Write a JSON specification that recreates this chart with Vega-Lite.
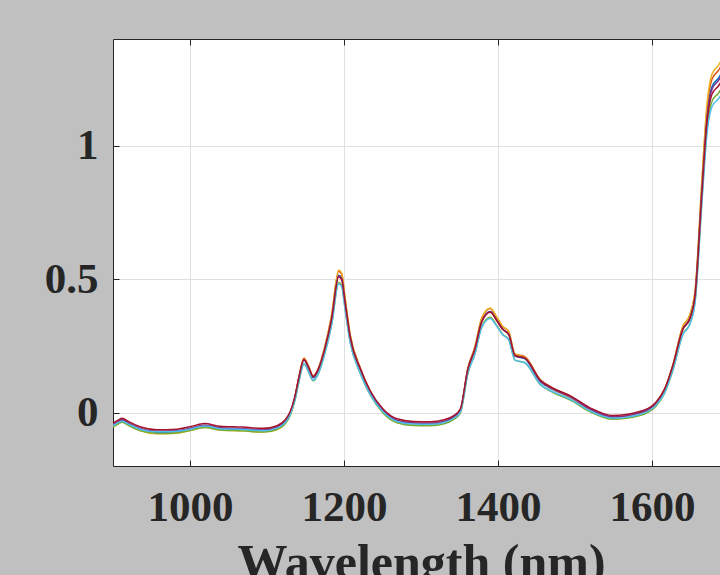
{
"$schema": "https://vega.github.io/schema/vega-lite/v6.json",
"width": 607, "height": 427,
"autosize": {"type": "none"},
"padding": {"left": 113, "top": 39, "right": 0, "bottom": 109},
"background": "#c0c0c0",
"config": {"view": {"fill": "white", "stroke": null}, "font": "Liberation Serif"},
"data": {"values": [
{"w":900,"s":"A","v":-0.048},{"w":906,"s":"A","v":-0.038},{"w":912,"s":"A","v":-0.030},{"w":920,"s":"A","v":-0.042},{"w":935,"s":"A","v":-0.063},{"w":957,"s":"A","v":-0.074},{"w":983,"s":"A","v":-0.072},{"w":1000,"s":"A","v":-0.063},{"w":1019,"s":"A","v":-0.051},{"w":1039,"s":"A","v":-0.061},{"w":1069,"s":"A","v":-0.064},{"w":1095,"s":"A","v":-0.069},{"w":1113,"s":"A","v":-0.059},{"w":1124,"s":"A","v":-0.035},{"w":1130,"s":"A","v":-0.005},{"w":1136,"s":"A","v":0.051},{"w":1141,"s":"A","v":0.121},{"w":1148,"s":"A","v":0.197},{"w":1154,"s":"A","v":0.167},{"w":1160,"s":"A","v":0.131},{"w":1167,"s":"A","v":0.162},{"w":1175,"s":"A","v":0.237},{"w":1184,"s":"A","v":0.354},{"w":1193,"s":"A","v":0.515},{"w":1197,"s":"A","v":0.505},{"w":1201,"s":"A","v":0.424},{"w":1208,"s":"A","v":0.283},{"w":1221,"s":"A","v":0.162},{"w":1234,"s":"A","v":0.076},{"w":1251,"s":"A","v":0.005},{"w":1269,"s":"A","v":-0.032},{"w":1290,"s":"A","v":-0.042},{"w":1312,"s":"A","v":-0.043},{"w":1330,"s":"A","v":-0.036},{"w":1342,"s":"A","v":-0.020},{"w":1351,"s":"A","v":0.005},{"w":1361,"s":"A","v":0.162},{"w":1370,"s":"A","v":0.237},{"w":1379,"s":"A","v":0.343},{"w":1390,"s":"A","v":0.379},{"w":1398,"s":"A","v":0.349},{"w":1406,"s":"A","v":0.313},{"w":1414,"s":"A","v":0.293},{"w":1422,"s":"A","v":0.212},{"w":1435,"s":"A","v":0.202},{"w":1455,"s":"A","v":0.116},{"w":1471,"s":"A","v":0.087},{"w":1494,"s":"A","v":0.057},{"w":1519,"s":"A","v":0.011},{"w":1549,"s":"A","v":-0.019},{"w":1584,"s":"A","v":-0.004},{"w":1606,"s":"A","v":0.035},{"w":1616,"s":"A","v":0.081},{"w":1627,"s":"A","v":0.172},{"w":1640,"s":"A","v":0.313},{"w":1649,"s":"A","v":0.354},{"w":1656,"s":"A","v":0.444},{"w":1665,"s":"A","v":0.848},{"w":1671,"s":"A","v":1.101},{"w":1678,"s":"A","v":1.222},{"w":1686,"s":"A","v":1.252},{"w":1695,"s":"A","v":1.293},{"w":1700,"s":"A","v":1.303},
{"w":900,"s":"B","v":-0.045},{"w":906,"s":"B","v":-0.035},{"w":912,"s":"B","v":-0.027},{"w":920,"s":"B","v":-0.039},{"w":935,"s":"B","v":-0.060},{"w":957,"s":"B","v":-0.071},{"w":983,"s":"B","v":-0.069},{"w":1000,"s":"B","v":-0.060},{"w":1019,"s":"B","v":-0.048},{"w":1039,"s":"B","v":-0.058},{"w":1069,"s":"B","v":-0.061},{"w":1095,"s":"B","v":-0.066},{"w":1113,"s":"B","v":-0.056},{"w":1124,"s":"B","v":-0.032},{"w":1130,"s":"B","v":-0.001},{"w":1136,"s":"B","v":0.056},{"w":1141,"s":"B","v":0.128},{"w":1148,"s":"B","v":0.205},{"w":1154,"s":"B","v":0.174},{"w":1160,"s":"B","v":0.138},{"w":1167,"s":"B","v":0.169},{"w":1175,"s":"B","v":0.246},{"w":1184,"s":"B","v":0.365},{"w":1193,"s":"B","v":0.529},{"w":1197,"s":"B","v":0.519},{"w":1201,"s":"B","v":0.437},{"w":1208,"s":"B","v":0.292},{"w":1221,"s":"B","v":0.169},{"w":1234,"s":"B","v":0.081},{"w":1251,"s":"B","v":0.009},{"w":1269,"s":"B","v":-0.029},{"w":1290,"s":"B","v":-0.039},{"w":1312,"s":"B","v":-0.040},{"w":1330,"s":"B","v":-0.033},{"w":1342,"s":"B","v":-0.017},{"w":1351,"s":"B","v":0.009},{"w":1361,"s":"B","v":0.169},{"w":1370,"s":"B","v":0.246},{"w":1379,"s":"B","v":0.354},{"w":1390,"s":"B","v":0.390},{"w":1398,"s":"B","v":0.359},{"w":1406,"s":"B","v":0.323},{"w":1414,"s":"B","v":0.303},{"w":1422,"s":"B","v":0.220},{"w":1435,"s":"B","v":0.210},{"w":1455,"s":"B","v":0.123},{"w":1471,"s":"B","v":0.093},{"w":1494,"s":"B","v":0.062},{"w":1519,"s":"B","v":0.015},{"w":1549,"s":"B","v":-0.016},{"w":1584,"s":"B","v":0.000},{"w":1606,"s":"B","v":0.040},{"w":1616,"s":"B","v":0.086},{"w":1627,"s":"B","v":0.179},{"w":1640,"s":"B","v":0.323},{"w":1649,"s":"B","v":0.365},{"w":1656,"s":"B","v":0.457},{"w":1665,"s":"B","v":0.869},{"w":1671,"s":"B","v":1.127},{"w":1678,"s":"B","v":1.250},{"w":1686,"s":"B","v":1.281},{"w":1695,"s":"B","v":1.322},{"w":1700,"s":"B","v":1.333},
{"w":900,"s":"C","v":-0.052},{"w":906,"s":"C","v":-0.042},{"w":912,"s":"C","v":-0.034},{"w":920,"s":"C","v":-0.046},{"w":935,"s":"C","v":-0.067},{"w":957,"s":"C","v":-0.079},{"w":983,"s":"C","v":-0.077},{"w":1000,"s":"C","v":-0.067},{"w":1019,"s":"C","v":-0.055},{"w":1039,"s":"C","v":-0.065},{"w":1069,"s":"C","v":-0.068},{"w":1095,"s":"C","v":-0.073},{"w":1113,"s":"C","v":-0.063},{"w":1124,"s":"C","v":-0.039},{"w":1130,"s":"C","v":-0.007},{"w":1136,"s":"C","v":0.051},{"w":1141,"s":"C","v":0.124},{"w":1148,"s":"C","v":0.203},{"w":1154,"s":"C","v":0.171},{"w":1160,"s":"C","v":0.135},{"w":1167,"s":"C","v":0.166},{"w":1175,"s":"C","v":0.245},{"w":1184,"s":"C","v":0.366},{"w":1193,"s":"C","v":0.534},{"w":1197,"s":"C","v":0.523},{"w":1201,"s":"C","v":0.439},{"w":1208,"s":"C","v":0.292},{"w":1221,"s":"C","v":0.166},{"w":1234,"s":"C","v":0.077},{"w":1251,"s":"C","v":0.003},{"w":1269,"s":"C","v":-0.036},{"w":1290,"s":"C","v":-0.046},{"w":1312,"s":"C","v":-0.047},{"w":1330,"s":"C","v":-0.040},{"w":1342,"s":"C","v":-0.023},{"w":1351,"s":"C","v":0.003},{"w":1361,"s":"C","v":0.166},{"w":1370,"s":"C","v":0.245},{"w":1379,"s":"C","v":0.355},{"w":1390,"s":"C","v":0.392},{"w":1398,"s":"C","v":0.360},{"w":1406,"s":"C","v":0.324},{"w":1414,"s":"C","v":0.303},{"w":1422,"s":"C","v":0.219},{"w":1435,"s":"C","v":0.208},{"w":1455,"s":"C","v":0.119},{"w":1471,"s":"C","v":0.088},{"w":1494,"s":"C","v":0.057},{"w":1519,"s":"C","v":0.010},{"w":1549,"s":"C","v":-0.022},{"w":1584,"s":"C","v":-0.006},{"w":1606,"s":"C","v":0.035},{"w":1616,"s":"C","v":0.082},{"w":1627,"s":"C","v":0.177},{"w":1640,"s":"C","v":0.324},{"w":1649,"s":"C","v":0.366},{"w":1656,"s":"C","v":0.460},{"w":1665,"s":"C","v":0.880},{"w":1671,"s":"C","v":1.143},{"w":1678,"s":"C","v":1.269},{"w":1686,"s":"C","v":1.300},{"w":1695,"s":"C","v":1.342},{"w":1700,"s":"C","v":1.352},
{"w":900,"s":"D","v":-0.045},{"w":906,"s":"D","v":-0.035},{"w":912,"s":"D","v":-0.027},{"w":920,"s":"D","v":-0.039},{"w":935,"s":"D","v":-0.059},{"w":957,"s":"D","v":-0.070},{"w":983,"s":"D","v":-0.068},{"w":1000,"s":"D","v":-0.059},{"w":1019,"s":"D","v":-0.047},{"w":1039,"s":"D","v":-0.057},{"w":1069,"s":"D","v":-0.060},{"w":1095,"s":"D","v":-0.065},{"w":1113,"s":"D","v":-0.055},{"w":1124,"s":"D","v":-0.032},{"w":1130,"s":"D","v":-0.002},{"w":1136,"s":"D","v":0.053},{"w":1141,"s":"D","v":0.123},{"w":1148,"s":"D","v":0.198},{"w":1154,"s":"D","v":0.168},{"w":1160,"s":"D","v":0.133},{"w":1167,"s":"D","v":0.163},{"w":1175,"s":"D","v":0.238},{"w":1184,"s":"D","v":0.353},{"w":1193,"s":"D","v":0.513},{"w":1197,"s":"D","v":0.503},{"w":1201,"s":"D","v":0.423},{"w":1208,"s":"D","v":0.283},{"w":1221,"s":"D","v":0.163},{"w":1234,"s":"D","v":0.078},{"w":1251,"s":"D","v":0.008},{"w":1269,"s":"D","v":-0.029},{"w":1290,"s":"D","v":-0.039},{"w":1312,"s":"D","v":-0.040},{"w":1330,"s":"D","v":-0.033},{"w":1342,"s":"D","v":-0.017},{"w":1351,"s":"D","v":0.008},{"w":1361,"s":"D","v":0.163},{"w":1370,"s":"D","v":0.238},{"w":1379,"s":"D","v":0.343},{"w":1390,"s":"D","v":0.378},{"w":1398,"s":"D","v":0.348},{"w":1406,"s":"D","v":0.313},{"w":1414,"s":"D","v":0.293},{"w":1422,"s":"D","v":0.213},{"w":1435,"s":"D","v":0.203},{"w":1455,"s":"D","v":0.118},{"w":1471,"s":"D","v":0.089},{"w":1494,"s":"D","v":0.059},{"w":1519,"s":"D","v":0.014},{"w":1549,"s":"D","v":-0.016},{"w":1584,"s":"D","v":-0.001},{"w":1606,"s":"D","v":0.038},{"w":1616,"s":"D","v":0.083},{"w":1627,"s":"D","v":0.173},{"w":1640,"s":"D","v":0.313},{"w":1649,"s":"D","v":0.353},{"w":1656,"s":"D","v":0.443},{"w":1665,"s":"D","v":0.843},{"w":1671,"s":"D","v":1.093},{"w":1678,"s":"D","v":1.213},{"w":1686,"s":"D","v":1.243},{"w":1695,"s":"D","v":1.283},{"w":1700,"s":"D","v":1.293},
{"w":900,"s":"E","v":-0.054},{"w":906,"s":"E","v":-0.044},{"w":912,"s":"E","v":-0.036},{"w":920,"s":"E","v":-0.048},{"w":935,"s":"E","v":-0.067},{"w":957,"s":"E","v":-0.078},{"w":983,"s":"E","v":-0.076},{"w":1000,"s":"E","v":-0.067},{"w":1019,"s":"E","v":-0.056},{"w":1039,"s":"E","v":-0.065},{"w":1069,"s":"E","v":-0.068},{"w":1095,"s":"E","v":-0.073},{"w":1113,"s":"E","v":-0.063},{"w":1124,"s":"E","v":-0.041},{"w":1130,"s":"E","v":-0.012},{"w":1136,"s":"E","v":0.042},{"w":1141,"s":"E","v":0.109},{"w":1148,"s":"E","v":0.182},{"w":1154,"s":"E","v":0.153},{"w":1160,"s":"E","v":0.119},{"w":1167,"s":"E","v":0.148},{"w":1175,"s":"E","v":0.221},{"w":1184,"s":"E","v":0.332},{"w":1193,"s":"E","v":0.488},{"w":1197,"s":"E","v":0.478},{"w":1201,"s":"E","v":0.400},{"w":1208,"s":"E","v":0.265},{"w":1221,"s":"E","v":0.148},{"w":1234,"s":"E","v":0.066},{"w":1251,"s":"E","v":-0.002},{"w":1269,"s":"E","v":-0.038},{"w":1290,"s":"E","v":-0.048},{"w":1312,"s":"E","v":-0.049},{"w":1330,"s":"E","v":-0.042},{"w":1342,"s":"E","v":-0.026},{"w":1351,"s":"E","v":-0.002},{"w":1361,"s":"E","v":0.148},{"w":1370,"s":"E","v":0.221},{"w":1379,"s":"E","v":0.323},{"w":1390,"s":"E","v":0.357},{"w":1398,"s":"E","v":0.328},{"w":1406,"s":"E","v":0.294},{"w":1414,"s":"E","v":0.274},{"w":1422,"s":"E","v":0.197},{"w":1435,"s":"E","v":0.187},{"w":1455,"s":"E","v":0.105},{"w":1471,"s":"E","v":0.076},{"w":1494,"s":"E","v":0.047},{"w":1519,"s":"E","v":0.004},{"w":1549,"s":"E","v":-0.025},{"w":1584,"s":"E","v":-0.011},{"w":1606,"s":"E","v":0.027},{"w":1616,"s":"E","v":0.071},{"w":1627,"s":"E","v":0.158},{"w":1640,"s":"E","v":0.294},{"w":1649,"s":"E","v":0.332},{"w":1656,"s":"E","v":0.420},{"w":1665,"s":"E","v":0.808},{"w":1671,"s":"E","v":1.050},{"w":1678,"s":"E","v":1.167},{"w":1686,"s":"E","v":1.196},{"w":1695,"s":"E","v":1.235},{"w":1700,"s":"E","v":1.244},
{"w":900,"s":"F","v":-0.049},{"w":906,"s":"F","v":-0.039},{"w":912,"s":"F","v":-0.032},{"w":920,"s":"F","v":-0.043},{"w":935,"s":"F","v":-0.062},{"w":957,"s":"F","v":-0.072},{"w":983,"s":"F","v":-0.070},{"w":1000,"s":"F","v":-0.062},{"w":1019,"s":"F","v":-0.050},{"w":1039,"s":"F","v":-0.060},{"w":1069,"s":"F","v":-0.063},{"w":1095,"s":"F","v":-0.068},{"w":1113,"s":"F","v":-0.058},{"w":1124,"s":"F","v":-0.036},{"w":1130,"s":"F","v":-0.008},{"w":1136,"s":"F","v":0.044},{"w":1141,"s":"F","v":0.111},{"w":1148,"s":"F","v":0.182},{"w":1154,"s":"F","v":0.154},{"w":1160,"s":"F","v":0.121},{"w":1167,"s":"F","v":0.149},{"w":1175,"s":"F","v":0.220},{"w":1184,"s":"F","v":0.330},{"w":1193,"s":"F","v":0.482},{"w":1197,"s":"F","v":0.472},{"w":1201,"s":"F","v":0.396},{"w":1208,"s":"F","v":0.263},{"w":1221,"s":"F","v":0.149},{"w":1234,"s":"F","v":0.068},{"w":1251,"s":"F","v":0.002},{"w":1269,"s":"F","v":-0.033},{"w":1290,"s":"F","v":-0.043},{"w":1312,"s":"F","v":-0.044},{"w":1330,"s":"F","v":-0.037},{"w":1342,"s":"F","v":-0.022},{"w":1351,"s":"F","v":0.002},{"w":1361,"s":"F","v":0.149},{"w":1370,"s":"F","v":0.220},{"w":1379,"s":"F","v":0.320},{"w":1390,"s":"F","v":0.353},{"w":1398,"s":"F","v":0.325},{"w":1406,"s":"F","v":0.292},{"w":1414,"s":"F","v":0.273},{"w":1422,"s":"F","v":0.197},{"w":1435,"s":"F","v":0.187},{"w":1455,"s":"F","v":0.106},{"w":1471,"s":"F","v":0.079},{"w":1494,"s":"F","v":0.050},{"w":1519,"s":"F","v":0.007},{"w":1549,"s":"F","v":-0.021},{"w":1584,"s":"F","v":-0.007},{"w":1606,"s":"F","v":0.030},{"w":1616,"s":"F","v":0.073},{"w":1627,"s":"F","v":0.159},{"w":1640,"s":"F","v":0.292},{"w":1649,"s":"F","v":0.330},{"w":1656,"s":"F","v":0.415},{"w":1665,"s":"F","v":0.795},{"w":1671,"s":"F","v":1.033},{"w":1678,"s":"F","v":1.147},{"w":1686,"s":"F","v":1.175},{"w":1695,"s":"F","v":1.213},{"w":1700,"s":"F","v":1.223},
{"w":900,"s":"G","v":-0.039},{"w":906,"s":"G","v":-0.029},{"w":912,"s":"G","v":-0.021},{"w":920,"s":"G","v":-0.033},{"w":935,"s":"G","v":-0.053},{"w":957,"s":"G","v":-0.064},{"w":983,"s":"G","v":-0.062},{"w":1000,"s":"G","v":-0.053},{"w":1019,"s":"G","v":-0.041},{"w":1039,"s":"G","v":-0.051},{"w":1069,"s":"G","v":-0.054},{"w":1095,"s":"G","v":-0.059},{"w":1113,"s":"G","v":-0.049},{"w":1124,"s":"G","v":-0.026},{"w":1130,"s":"G","v":0.003},{"w":1136,"s":"G","v":0.057},{"w":1141,"s":"G","v":0.126},{"w":1148,"s":"G","v":0.199},{"w":1154,"s":"G","v":0.170},{"w":1160,"s":"G","v":0.135},{"w":1167,"s":"G","v":0.165},{"w":1175,"s":"G","v":0.238},{"w":1184,"s":"G","v":0.351},{"w":1193,"s":"G","v":0.508},{"w":1197,"s":"G","v":0.498},{"w":1201,"s":"G","v":0.420},{"w":1208,"s":"G","v":0.282},{"w":1221,"s":"G","v":0.165},{"w":1234,"s":"G","v":0.082},{"w":1251,"s":"G","v":0.013},{"w":1269,"s":"G","v":-0.023},{"w":1290,"s":"G","v":-0.033},{"w":1312,"s":"G","v":-0.034},{"w":1330,"s":"G","v":-0.027},{"w":1342,"s":"G","v":-0.012},{"w":1351,"s":"G","v":0.013},{"w":1361,"s":"G","v":0.165},{"w":1370,"s":"G","v":0.238},{"w":1379,"s":"G","v":0.341},{"w":1390,"s":"G","v":0.376},{"w":1398,"s":"G","v":0.346},{"w":1406,"s":"G","v":0.312},{"w":1414,"s":"G","v":0.292},{"w":1422,"s":"G","v":0.214},{"w":1435,"s":"G","v":0.204},{"w":1455,"s":"G","v":0.121},{"w":1471,"s":"G","v":0.092},{"w":1494,"s":"G","v":0.063},{"w":1519,"s":"G","v":0.019},{"w":1549,"s":"G","v":-0.011},{"w":1584,"s":"G","v":0.004},{"w":1606,"s":"G","v":0.042},{"w":1616,"s":"G","v":0.086},{"w":1627,"s":"G","v":0.175},{"w":1640,"s":"G","v":0.312},{"w":1649,"s":"G","v":0.351},{"w":1656,"s":"G","v":0.439},{"w":1665,"s":"G","v":0.831},{"w":1671,"s":"G","v":1.076},{"w":1678,"s":"G","v":1.194},{"w":1686,"s":"G","v":1.223},{"w":1695,"s":"G","v":1.262},{"w":1700,"s":"G","v":1.272}
]},
"layer": [
{"mark": {"type": "line", "clip": true, "strokeWidth": 1.5, "interpolate": "monotone"},
 "encoding": {
  "x": {"field": "w", "type": "quantitative",
        "scale": {"domain": [900, 1688.3], "nice": false, "zero": false},
        "axis": {"values": [1000, 1200, 1400, 1600], "format": "d", "grid": true, "gridColor": "#e0e0e0", "gridWidth": 1,
                 "domainColor": "#262626", "domainWidth": 1, "tickColor": "#262626", "tickSize": -6,
                 "labelFont": "Liberation Serif", "labelFontWeight": "bold", "labelFontSize": 43, "labelColor": "#262626",
                 "labelPadding": 26, "labelFlush": false, "labelOverlap": false,
                 "title": "Wavelength (nm)", "titleFont": "Liberation Serif", "titleFontWeight": "bold",
                 "titleFontSize": 50, "titleColor": "#262626", "titlePadding": 9, "titleX": 308}},
  "y": {"field": "v", "type": "quantitative",
        "scale": {"domain": [-0.2, 1.4], "nice": false, "zero": false},
        "axis": {"values": [0, 0.5, 1], "format": ".1~f", "grid": true, "gridColor": "#e0e0e0", "gridWidth": 1,
                 "domainColor": "#262626", "domainWidth": 1, "tickColor": "#262626", "tickSize": -6,
                 "labelFont": "Liberation Serif", "labelFontWeight": "bold", "labelFontSize": 43, "labelColor": "#262626",
                 "labelPadding": 21, "labelFlush": false, "labelOverlap": false, "title": null}},
  "color": {"field": "s", "type": "nominal",
            "scale": {"domain": ["A", "B", "C", "D", "E", "F", "G"],
                      "range": ["#0072BD", "#D95319", "#EDB120", "#7E2F8E", "#77AC30", "#4DBEEE", "#A2142F"]},
            "legend": null}
 }},
{"mark": {"type": "rule", "opacity": 0},
 "encoding": {
  "x": {"field": "w", "type": "quantitative",
        "scale": {"domain": [900, 1688.3], "nice": false, "zero": false},
        "axis": {"orient": "top", "values": [1000, 1200, 1400, 1600], "grid": false, "labels": false,
                 "domainColor": "#262626", "domainWidth": 1, "tickColor": "#262626", "tickSize": -6, "title": null}}
 }}
],
"resolve": {"axis": {"x": "independent"}}
}
